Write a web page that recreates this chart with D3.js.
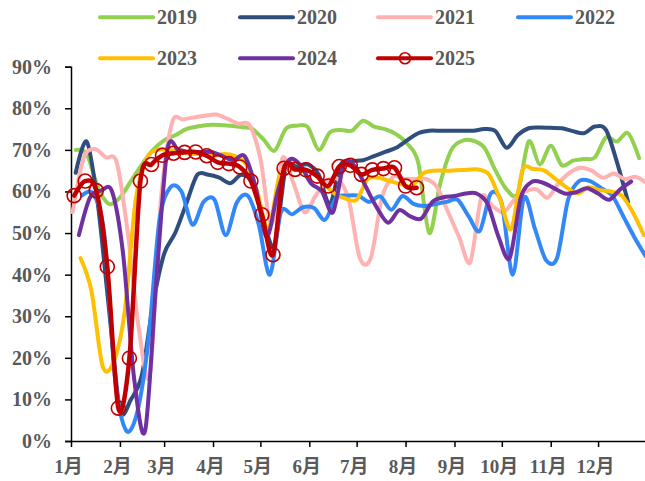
<!DOCTYPE html>
<html>
<head>
<meta charset="utf-8">
<script src="https://cdn.jsdelivr.net/npm/d3@7"></script>
<style>
  html, body { margin: 0; padding: 0; background: #fff; }
  svg { display: block; }
  text { font-family: "Liberation Serif", "Times New Roman", "Noto Sans CJK SC", serif; font-weight: bold; fill: #595959; }
</style>
</head>
<body>
<svg id="chart" width="645" height="481"></svg>
<script>
// Weekly utilisation rate (%) by year; each series starts on the given day of the year, one value per week.
const years = ["2019", "2020", "2021", "2022", "2023", "2024", "2025"];
const startDays = [3, 3, 1, 7, 6, 5, 2];

const y2019 = [70,69,61,57,58.5,62.5,66.5,70,72.3,73.5,75,75.6,76,76,75.8,75.5,75,72.5,69.8,75,75.8,75.5,70,74.2,74.8,74.6,77,75.6,75,73.8,71.5,67,50,62,70,72.2,72.2,70.5,65,60.5,59.5,72,66.5,71,66.3,67.4,67.8,68.2,73,72,74,68];
const y2020 = [64.5,72,57,32,7.5,10,16,33,45,50,57,64,64,63.3,62,64,62,53,47,65.5,66,66.5,64,57,66.5,67.3,67.5,68.5,69.5,70.5,72.3,74,74.6,74.6,74.6,74.6,74.6,75,74.5,70.5,73.5,75.2,75.4,75.3,75.2,74.5,74,75.6,74.8,67,57.5];
const y2021 = [55,68,70.2,68.2,67,50,27,16,58,76.5,77.3,77.8,78.2,78.5,77.5,76.3,76,68,52,68,62,55,59,62.5,63,58,44,44,58.5,63.5,63,63,63,61,55,49,43,58.5,56.5,55,58,60,60.5,58.5,62,64.5,65.7,65,63.3,64.3,63,63.5,62];
const y2022 = [59,59.5,50,15,2.5,7,24,53,61,60,52,57.5,58,49.5,57.3,59,52,40,55,54.5,56.2,56,53.2,58.5,59,59,57.5,58.8,55.6,58.9,57,56.5,57,57.5,58,54,50.5,59.5,57,40,58.5,51,43.5,44,58,62.5,62.5,60.8,59,54,49,44.5];
const y2023 = [44,36,18,19,31,58,68,70,70,69.5,69,69,68.5,69,68.5,66.5,60,50.8,63.5,65.3,65,64.5,62,59.5,58.3,58,63,63.3,62.5,61.8,61.3,64.3,65,65,65.1,65.2,65.3,64,58,51,65,65.4,65,63,61,59.5,61,60.3,60,59,55,49.5];
const y2024 = [49.5,58.5,60.2,60,45,15,2.5,38,70,70,69.5,69.5,69.5,68.5,67.5,68.5,61,49,60,67.5,66.5,62,60,55,66.5,66,61,56,52.5,55.5,54,53.5,57.5,58.6,58.9,59.5,59.5,57,49,44,58.5,62.3,62.1,60.8,59.5,59.8,60.8,59.5,58,60.5,62.4];
const y2025 = [59.0,62.5,60.2,41.9,7.9,19.9,62.5,66.5,68.7,69.2,69.4,69.5,68.6,67.0,66.7,65.9,62.5,54.4,44.8,65.6,65.3,65.2,63.7,61.3,66.0,66.3,64.1,65.2,65.5,65.7,61.3,60.9];
const seriesValues = [y2019, y2020, y2021, y2022, y2023, y2024, y2025];

const colors = ["#92D050", "#2F4E7E", "#FFB2B2", "#3388F7", "#FFC000", "#7030A0", "#C00000"];

const monthStarts = [0, 31, 59, 90, 120, 151, 181, 212, 243, 273, 304, 334];
const monthLabels = ["1月","2月","3月","4月","5月","6月","7月","8月","9月","10月","11月","12月"];
const yTicks = [0, 10, 20, 30, 40, 50, 60, 70, 80, 90];

const svg = d3.select("#chart");
const x = d3.scaleLinear().domain([0, 365]).range([71, 647]);
const y = d3.scaleLinear().domain([0, 90]).range([441, 66.7]);

// Y axis
const yAxis = svg.append("g").attr("transform", "translate(71,0)")
  .call(d3.axisLeft(y).tickValues(yTicks).tickSize(6).tickFormat(d => d + "%"));
yAxis.select(".domain").attr("stroke", "#000").attr("stroke-width", 1.5);
yAxis.selectAll(".tick line").attr("stroke", "#000").attr("stroke-width", 1.5);
yAxis.selectAll(".tick text").attr("x", -19).attr("font-size", 20)
  .style("font-family", "Liberation Serif, serif").style("font-weight", "bold").attr("fill", "#595959");

// X axis
const xAxis = svg.append("g").attr("transform", "translate(0,441)")
  .call(d3.axisBottom(x).tickValues(monthStarts).tickSize(6).tickSizeOuter(0).tickFormat((d, i) => monthLabels[i]));
xAxis.select(".domain").attr("stroke", "#000").attr("stroke-width", 1.5);
xAxis.selectAll(".tick line").attr("stroke", "#000").attr("stroke-width", 1.5);
xAxis.selectAll(".tick text").attr("y", 19).attr("dx", -3).attr("font-size", 19)
  .style("font-family", "Liberation Serif, 'Noto Sans CJK SC', serif").style("font-weight", "bold").attr("fill", "#595959");

// Lines
const line = d3.line().curve(d3.curveCardinal.tension(0.1))
  .x(d => x(d.day)).y(d => y(d.value));

const series = years.map((yr, k) => ({
  year: yr,
  color: colors[k],
  points: seriesValues[k].map((v, i) => ({ day: startDays[k] + 7 * i, value: v }))
}));

const plot = svg.append("g");
series.forEach((s, k) => {
  plot.append("path")
    .attr("d", line(s.points))
    .attr("fill", "none")
    .attr("stroke", s.color)
    .attr("stroke-width", k === 6 ? 4.5 : 4)
    .attr("stroke-linejoin", "round")
    .attr("stroke-linecap", "round");
});

// Markers on the latest year
const last = series[6];
plot.selectAll("circle.mk").data(last.points).join("circle")
  .attr("class", "mk")
  .attr("cx", d => x(d.day)).attr("cy", d => y(d.value)).attr("r", 7)
  .attr("fill", "none").attr("stroke", last.color).attr("stroke-width", 1.6);

// Legend
const legendPos = [[100, 17.3], [240, 17.3], [378, 17.3], [518, 17.3], [100, 58.3], [240, 58.3], [378, 58.3]];
series.forEach((s, k) => {
  const [lx, ly] = legendPos[k];
  const g = svg.append("g").attr("transform", `translate(${lx},${ly})`);
  g.append("line").attr("x1", 0).attr("x2", 53).attr("y1", 0).attr("y2", 0)
    .attr("stroke", s.color).attr("stroke-width", 4).attr("stroke-linecap", "round");
  if (k === 6) {
    g.append("circle").attr("cx", 27).attr("cy", 0).attr("r", 5.5)
      .attr("fill", "none").attr("stroke", s.color).attr("stroke-width", 1.6);
  }
  g.append("text").attr("x", 57).attr("y", 0).attr("dy", "0.35em")
    .attr("font-size", 20).text(s.year);
});
</script>
</body>
</html>
